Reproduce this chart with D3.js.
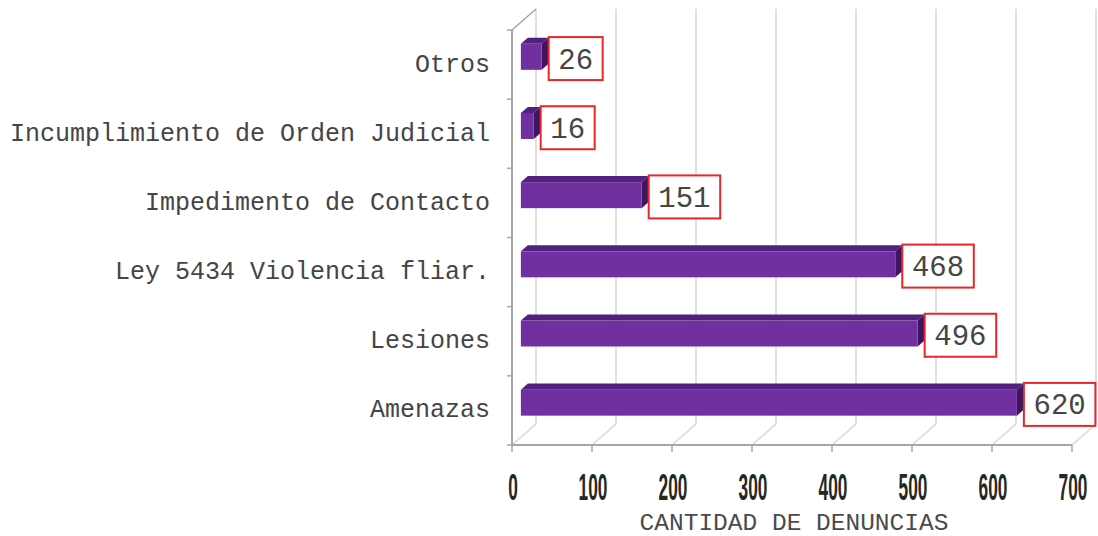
<!DOCTYPE html>
<html>
<head>
<meta charset="utf-8">
<script src="https://cdn.jsdelivr.net/npm/d3@7"></script>
<style>
  html, body { margin: 0; padding: 0; background: #ffffff; }
  svg { display: block; }
</style>
</head>
<body>
<svg id="chart" width="1098" height="536"></svg>
<script>
// ---- data ----
const categories = ["Otros", "Incumplimiento de Orden Judicial", "Impedimento de Contacto", "Ley 5434 Violencia fliar.", "Lesiones", "Amenazas"];
const values = [26, 16, 151, 468, 496, 620];
const xTicks = [0, 100, 200, 300, 400, 500, 600, 700];
const xTitle = "CANTIDAD DE DENUNCIAS";

const svg = d3.select("#chart");

// front plane geometry
const x = d3.scaleLinear().domain([0, 700]).range([512, 1072]);
const y = d3.scaleBand().domain(categories).range([30, 445]).padding(0);

// depth projection: depth in [0,1] -> offset
const DX = 24, DY = -21;
const off = d => [DX * d, DY * d];

const gridCol = "#d6d6d6";
const axisCol = "#a6a6a6";

// back wall gridlines + floor diagonals
const back = off(1);
const gGrid = svg.append("g");
xTicks.forEach(v => {
  gGrid.append("line")
    .attr("x1", x(v) + back[0]).attr("x2", x(v) + back[0])
    .attr("y1", 30 + back[1]).attr("y2", 445 + back[1])
    .attr("stroke", gridCol).attr("stroke-width", 1.5);
  gGrid.append("line")
    .attr("x1", x(v) + back[0]).attr("y1", 445 + back[1])
    .attr("x2", x(v)).attr("y2", 445)
    .attr("stroke", gridCol).attr("stroke-width", 1.5);
});
// left wall top diagonal
gGrid.append("line")
  .attr("x1", x(0)).attr("y1", 30)
  .attr("x2", x(0) + back[0]).attr("y2", 30 + back[1])
  .attr("stroke", axisCol).attr("stroke-width", 1.5);

// axes (front)
const gAx = svg.append("g");
gAx.append("line").attr("x1", x(0)).attr("x2", x(0)).attr("y1", 30).attr("y2", 445)
  .attr("stroke", axisCol).attr("stroke-width", 2);
gAx.append("line").attr("x1", x(0)).attr("x2", x(700)).attr("y1", 445).attr("y2", 445)
  .attr("stroke", axisCol).attr("stroke-width", 2);
// category boundary ticks
categories.forEach(c => {
  const yy = y(c);
  gAx.append("line").attr("x1", x(0) - 5).attr("x2", x(0)).attr("y1", yy).attr("y2", yy)
    .attr("stroke", axisCol).attr("stroke-width", 1.5);
});
gAx.append("line").attr("x1", x(0) - 5).attr("x2", x(0)).attr("y1", 445).attr("y2", 445)
  .attr("stroke", axisCol).attr("stroke-width", 1.5);
// x ticks
xTicks.forEach(v => {
  gAx.append("line").attr("x1", x(v)).attr("x2", x(v)).attr("y1", 445).attr("y2", 452)
    .attr("stroke", axisCol).attr("stroke-width", 1.5);
});

// tick labels (condensed, tall)
const gTl = svg.append("g");
xTicks.forEach(v => {
  gTl.append("text")
    .attr("transform", `translate(${x(v) + 1},499.5) scale(0.72,1.55)`)
    .attr("text-anchor", "middle")
    .attr("font-family", "Liberation Sans, Arial, sans-serif")
    .attr("font-weight", "bold")
    .attr("font-size", 24)
    .attr("fill", "#262626")
    .text(v);
});

// axis title
svg.append("text")
  .attr("x", 794).attr("y", 530)
  .attr("text-anchor", "middle")
  .attr("font-family", "Liberation Mono, Courier New, monospace")
  .attr("font-size", 24.5)
  .attr("fill", "#4a4a4a")
  .text(xTitle);

// category labels
svg.append("g").selectAll("text").data(categories).join("text")
  .attr("x", 490)
  .attr("y", d => y(d) + y.bandwidth() / 2 + 7)
  .attr("text-anchor", "end")
  .attr("font-family", "Liberation Mono, Courier New, monospace")
  .attr("font-size", 25)
  .attr("fill", "#454545")
  .text(d => d);

// bars (3D)
const dFront = 0.37, dBack = 0.66;
const thick = 26;
const fOff = off(dFront), bOff = off(dBack);
const sx = bOff[0] - fOff[0], sy = bOff[1] - fOff[1];
const colFront = "#7030a0", colTop = "#52207e", colEnd = "#40155f";

const gBars = svg.append("g");
categories.forEach((c, i) => {
  const v = values[i];
  const cy = y(c) + y.bandwidth() / 2 + fOff[1];
  const x0 = x(0) + fOff[0], x1 = x(v) + fOff[0];
  const yt = cy - thick / 2, yb = cy + thick / 2;
  // top face
  gBars.append("path")
    .attr("d", `M${x0},${yt} L${x0 + sx},${yt + sy} L${x1 + sx},${yt + sy} L${x1},${yt} Z`)
    .attr("fill", colTop);
  // end face
  gBars.append("path")
    .attr("d", `M${x1},${yt} L${x1 + sx},${yt + sy} L${x1 + sx},${yb + sy} L${x1},${yb} Z`)
    .attr("fill", colEnd);
  // front face
  gBars.append("rect")
    .attr("x", x0).attr("y", yt).attr("width", x1 - x0).attr("height", thick)
    .attr("fill", colFront);
});

// value label boxes
const gLab = svg.append("g");
categories.forEach((c, i) => {
  const v = values[i];
  const txt = String(v);
  const w = txt.length * 17.5 + 19;
  const h = 43;
  const bx = x(v) + fOff[0] + 7;
  const cy = y(c) + y.bandwidth() / 2 - 6;
  gLab.append("rect")
    .attr("x", bx).attr("y", cy - h / 2).attr("width", w).attr("height", h)
    .attr("fill", "#ffffff").attr("stroke", "#e8262c").attr("stroke-width", 2);
  gLab.append("text")
    .attr("x", bx + w / 2).attr("y", cy + 10)
    .attr("text-anchor", "middle")
    .attr("font-family", "Liberation Mono, Courier New, monospace")
    .attr("font-size", 29)
    .attr("fill", "#454545")
    .text(txt);
});
</script>
</body>
</html>
